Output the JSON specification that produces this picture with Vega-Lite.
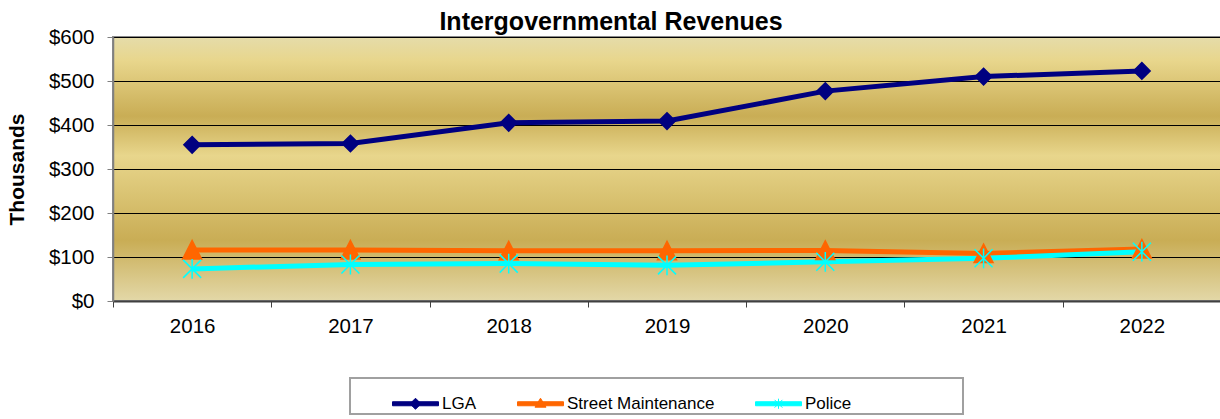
{
  "$schema": "https://vega.github.io/schema/vega-lite/v6.json",
  "autosize": {"type": "none"},
  "width": 1108,
  "height": 264,
  "padding": {"left": 113, "top": 37, "right": 0, "bottom": 118},
  "background": "white",
  "title": {"text": "Intergovernmental Revenues", "font": "Liberation Sans", "fontSize": 25, "fontWeight": "bold", "color": "black", "anchor": "middle", "dx": -56, "dy": 14, "offset": 6},
  "data": {"values": [
    {"year": "2016", "series": "LGA", "value": 355},
    {"year": "2017", "series": "LGA", "value": 358},
    {"year": "2018", "series": "LGA", "value": 405},
    {"year": "2019", "series": "LGA", "value": 409},
    {"year": "2020", "series": "LGA", "value": 477},
    {"year": "2021", "series": "LGA", "value": 510},
    {"year": "2022", "series": "LGA", "value": 523},
    {"year": "2016", "series": "Street Maintenance", "value": 116},
    {"year": "2017", "series": "Street Maintenance", "value": 116},
    {"year": "2018", "series": "Street Maintenance", "value": 114},
    {"year": "2019", "series": "Street Maintenance", "value": 114},
    {"year": "2020", "series": "Street Maintenance", "value": 115},
    {"year": "2021", "series": "Street Maintenance", "value": 108},
    {"year": "2022", "series": "Street Maintenance", "value": 118},
    {"year": "2016", "series": "Police", "value": 73},
    {"year": "2017", "series": "Police", "value": 83},
    {"year": "2018", "series": "Police", "value": 85},
    {"year": "2019", "series": "Police", "value": 81},
    {"year": "2020", "series": "Police", "value": 89},
    {"year": "2021", "series": "Police", "value": 97},
    {"year": "2022", "series": "Police", "value": 112}
  ]},
  "encoding": {
    "x": {"field": "year", "type": "ordinal", "scale": {"type": "band", "paddingInner": 0, "paddingOuter": 0},
      "axis": {"title": null, "labelAngle": 0, "labelFont": "Liberation Sans", "labelFontSize": 20.5, "labelColor": "black", "labelPadding": 9, "tickSize": 6, "tickBand": "extent", "tickColor": "#404040", "domainColor": "#404040", "domainWidth": 2, "grid": false}},
    "y": {"field": "value", "type": "quantitative", "scale": {"domain": [0, 600], "nice": false},
      "axis": {"values": [0, 100, 200, 300, 400, 500, 600], "format": "$,.0f", "labelFont": "Liberation Sans", "labelFontSize": 20.5, "labelColor": "black", "labelPadding": 13, "tickSize": 6, "tickColor": "#808080", "domainColor": "#808080", "domainWidth": 1.5, "grid": true, "gridColor": "black", "gridOpacity": 1, "gridWidth": 1, "title": "Thousands", "titleFont": "Liberation Sans", "titleFontSize": 21, "titleFontWeight": "bold", "titleColor": "black", "titlePadding": 21}}
  },
  "layer": [
    {
      "mark": {"type": "line", "strokeWidth": 5},
      "encoding": {
        "color": {"field": "series", "type": "nominal",
          "scale": {"domain": ["LGA", "Street Maintenance", "Police"], "range": ["#000080", "#FF6600", "#00FFFF"]},
          "legend": {
            "orient": "none", "legendX": 237, "legendY": 341, "direction": "horizontal", "columns": 3,
            "title": " ", "titleOrient": "right", "titleFontSize": 1, "titlePadding": 110,
            "padding": 2, "strokeColor": "#a0a0a0", "fillColor": "white",
            "labelFont": "Liberation Sans", "labelFontSize": 17, "labelColor": "black", "labelOffset": 3,
            "columnPadding": -2, "symbolOffset": 40, "symbolSize": 2116, "symbolType": "square",
            "encode": {
              "legend": {"update": {"strokeWidth": {"value": 2}}},
              "symbols": {"update": {
                "shape": {"signal": "datum.value == 'LGA' ? 'M-1,-0.087H1V0.087H-1Z M0,-0.24L0.24,0L0,0.24L-0.24,0Z' : datum.value == 'Street Maintenance' ? 'M-1,-0.087H1V0.087H-1Z M0,-0.24L0.24,0.15L-0.24,0.15Z' : 'M-1,-0.087H1V0.087H-1Z M-0.17,-0.17L0.17,0.17M-0.17,0.17L0.17,-0.17M0,-0.22V0.22'"},
                "fill": {"signal": "datum.value == 'LGA' ? '#000080' : datum.value == 'Street Maintenance' ? '#FF6600' : '#00FFFF'"},
                "stroke": {"signal": "datum.value == 'LGA' ? '#000080' : datum.value == 'Street Maintenance' ? '#FF6600' : '#00FFFF'"},
                "strokeWidth": {"value": 1},
                "size": {"value": 2116},
                "opacity": {"value": 1}
              }}
            }
          }}
      }
    },
    {
      "transform": [{"filter": "datum.series == 'LGA'"}],
      "mark": {"type": "point", "filled": true, "size": 324, "opacity": 1, "strokeWidth": 1.5, "color": "#000080", "stroke": "#000080", "shape": "M0,-0.92L0.92,0L0,0.92L-0.92,0Z"}
    },
    {
      "transform": [{"filter": "datum.series == 'Street Maintenance'"}],
      "mark": {"type": "point", "filled": true, "size": 324, "opacity": 1, "strokeWidth": 1.5, "color": "#FF6600", "stroke": "#FF6600", "shape": "M0,-1.05L1.05,1.0L-1.05,1.0Z"}
    },
    {
      "transform": [{"filter": "datum.series == 'Police'"}],
      "mark": {"type": "point", "filled": true, "size": 324, "opacity": 1, "strokeWidth": 1.5, "color": "#00FFFF", "stroke": "#00FFFF", "shape": "M-1,-1L1,1M-1,1L1,-1M0,-1.1V1.1"}
    }
  ],
  "config": {
    "view": {
      "stroke": "#8a8a8a",
      "strokeWidth": 2,
      "fill": {"gradient": "linear", "x1": 0, "y1": 0, "x2": 0, "y2": 1, "stops": [
        {"offset": 0, "color": "#e5dcaa"},
        {"offset": 0.09, "color": "#e8d68c"},
        {"offset": 0.3, "color": "#c9ad55"},
        {"offset": 0.45, "color": "#e8d68c"},
        {"offset": 0.77, "color": "#c9ad55"},
        {"offset": 1, "color": "#e3d8a8"}
      ]}
    }
  }
}
